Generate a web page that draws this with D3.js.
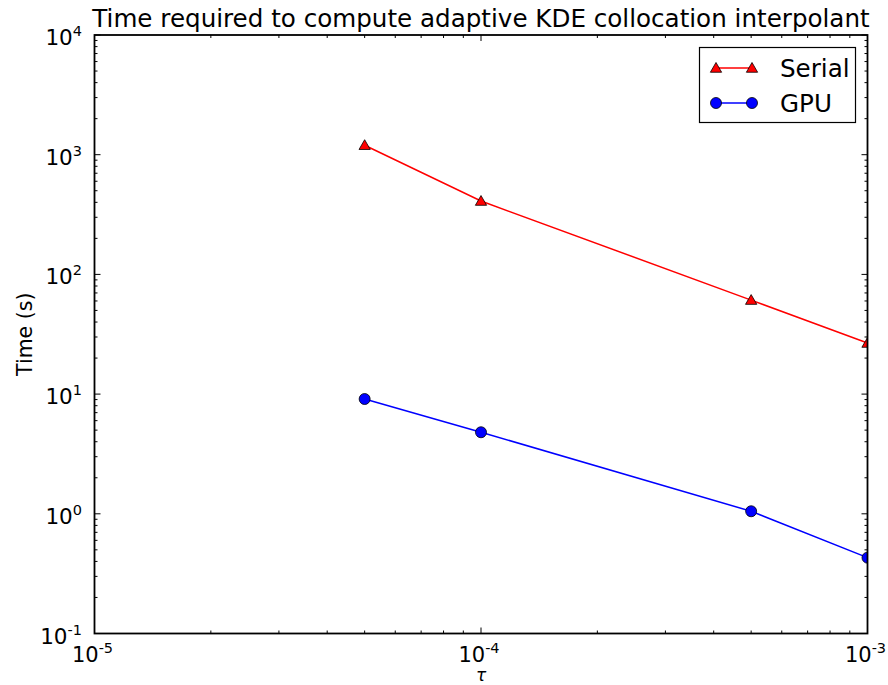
<!DOCTYPE html>
<html>
<head>
<meta charset="utf-8">
<script src="https://cdn.jsdelivr.net/npm/d3@7/dist/d3.min.js"></script>
<style>
  body { margin: 0; background: #fff; }
  text { font-family: "DejaVu Sans", sans-serif; }
</style>
</head>
<body>
<svg id="chart" width="888" height="685"></svg>
<script>
// Tolerance values and timings (seconds)
const tau = [5e-5, 1e-4, 5e-4, 1e-3];
const serialTime = [1200, 410, 61, 26.7];
const gpuTime = [9.1, 4.8, 1.05, 0.43];
const xTickExps = [-5, -4, -3];
const yTickExps = [-1, 0, 1, 2, 3, 4];
const seriesNames = ["Serial", "GPU"];

const svg = d3.select("#chart");
const m = { left: 94.5, right: 867.5, top: 35, bottom: 633.5 };

const x = d3.scaleLog().domain([1e-5, 1e-3]).range([m.left, m.right]);
const y = d3.scaleLog().domain([1e-1, 1e4]).range([m.bottom, m.top]);

// minor ticks at 2..9 of each decade
function minors(lo, hi) {
  const out = [];
  for (let e = lo; e < hi; e++) for (let k = 2; k <= 9; k++) out.push(k * Math.pow(10, e));
  return out;
}
const xMinor = minors(-5, -3);
const yMinor = minors(-1, 4);

const g = svg.append("g");

// tick marks pointing inward on all four sides
function ticks(vals, len) {
  vals.forEach(v => {
    const px = x(v);
    g.append("line").attr("x1", px).attr("x2", px).attr("y1", m.bottom).attr("y2", m.bottom - len).attr("stroke", "#000");
    g.append("line").attr("x1", px).attr("x2", px).attr("y1", m.top).attr("y2", m.top + len).attr("stroke", "#000");
  });
}
function yticks(vals, len) {
  vals.forEach(v => {
    const py = y(v);
    g.append("line").attr("y1", py).attr("y2", py).attr("x1", m.left).attr("x2", m.left + len).attr("stroke", "#000");
    g.append("line").attr("y1", py).attr("y2", py).attr("x1", m.right).attr("x2", m.right - len).attr("stroke", "#000");
  });
}
ticks(xMinor, 3);
ticks(xTickExps.map(e => Math.pow(10, e)), 6);
yticks(yMinor, 3);
yticks(yTickExps.map(e => Math.pow(10, e)), 6);

// lines
const line = d3.line().x(d => x(d[0])).y(d => y(d[1]));
const serialPts = tau.map((t, i) => [t, serialTime[i]]);
const gpuPts = tau.map((t, i) => [t, gpuTime[i]]);

svg.append("defs").append("clipPath").attr("id", "plotclip")
  .append("rect").attr("x", m.left).attr("y", m.top).attr("width", m.right - m.left).attr("height", m.bottom - m.top);

const plot = svg.append("g").attr("clip-path", "url(#plotclip)");
plot.append("path").datum(serialPts).attr("d", line).attr("fill", "none").attr("stroke", "#ff0000").attr("stroke-width", 1.5);
plot.append("path").datum(gpuPts).attr("d", line).attr("fill", "none").attr("stroke", "#0000ff").attr("stroke-width", 1.5);

const tri = d3.symbol().type(d3.symbolTriangle).size(55);
plot.selectAll(".tri").data(serialPts).enter().append("path")
  .attr("d", tri).attr("transform", d => `translate(${x(d[0])},${y(d[1]) + 1})`)
  .attr("fill", "#ff0000").attr("stroke", "#000").attr("stroke-width", 0.8);
plot.selectAll(".dot").data(gpuPts).enter().append("circle")
  .attr("cx", d => x(d[0])).attr("cy", d => y(d[1])).attr("r", 5.5)
  .attr("fill", "#0000ff").attr("stroke", "#000").attr("stroke-width", 0.8);

// frame
svg.append("rect").attr("x", m.left).attr("y", m.top).attr("width", m.right - m.left).attr("height", m.bottom - m.top)
  .attr("fill", "none").attr("stroke", "#000").attr("stroke-width", 1.8);

// tick labels
function powLabel(sel, e) {
  sel.append("tspan").text("10");
  sel.append("tspan").attr("dy", -9).attr("font-size", 14.5).text(e);
}
xTickExps.forEach(e => {
  const t = svg.append("text").attr("x", x(Math.pow(10, e)) - 2).attr("y", 662)
    .attr("text-anchor", "middle").attr("font-size", 21);
  powLabel(t, e);
});
yTickExps.forEach(e => {
  const t = svg.append("text").attr("x", 82).attr("y", y(Math.pow(10, e)) + 10)
    .attr("text-anchor", "end").attr("font-size", 21.5);
  powLabel(t, e);
});

// title and axis labels
svg.append("text").attr("x", (m.left + m.right) / 2).attr("y", 27).attr("text-anchor", "middle")
  .attr("font-size", 24.6).text("Time required to compute adaptive KDE collocation interpolant");
svg.append("text").attr("x", x(1e-4)).attr("y", 681).attr("text-anchor", "middle")
  .attr("font-size", 17).attr("font-style", "italic").text("τ");
svg.append("text").attr("transform", `translate(32,${(m.top + m.bottom) / 2}) rotate(-90)`)
  .attr("text-anchor", "middle").attr("font-size", 20.5).text("Time (s)");

// legend
const lg = svg.append("g");
lg.append("rect").attr("x", 699.5).attr("y", 47.5).attr("width", 156).attr("height", 75)
  .attr("fill", "#fff").attr("stroke", "#000").attr("stroke-width", 1.2);
const legendRows = [
  { name: seriesNames[0], color: "#ff0000", y: 68, kind: "tri" },
  { name: seriesNames[1], color: "#0000ff", y: 103, kind: "dot" }
];
legendRows.forEach(r => {
  lg.append("line").attr("x1", 716).attr("x2", 752).attr("y1", r.y).attr("y2", r.y)
    .attr("stroke", r.color).attr("stroke-width", 1.5);
  [716, 752].forEach(px => {
    if (r.kind === "tri") {
      lg.append("path").attr("d", tri).attr("transform", `translate(${px},${r.y + 1})`)
        .attr("fill", r.color).attr("stroke", "#000").attr("stroke-width", 0.8);
    } else {
      lg.append("circle").attr("cx", px).attr("cy", r.y).attr("r", 5.5)
        .attr("fill", r.color).attr("stroke", "#000").attr("stroke-width", 0.8);
    }
  });
  lg.append("text").attr("x", 780).attr("y", r.y + 8.5).attr("font-size", 24.6).text(r.name);
});
</script>
</body>
</html>
